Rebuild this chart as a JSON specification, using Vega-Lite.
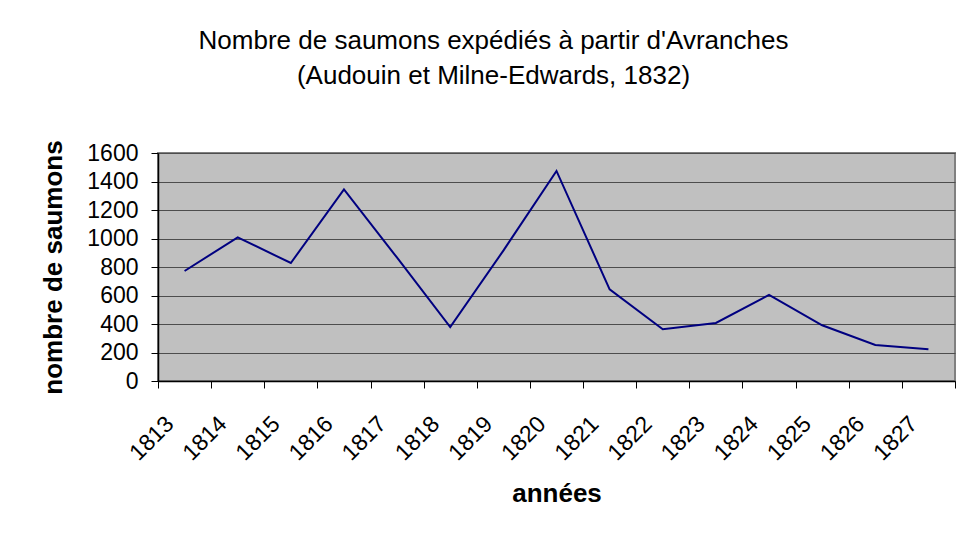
{
  "$schema": "https://vega.github.io/schema/vega-lite/v6.json",
  "width": 797,
  "height": 228,
  "autosize": {"type": "none"},
  "padding": {"left": 158, "top": 153, "right": 10, "bottom": 157},
  "background": "white",
  "title": {
    "text": ["Nombre de saumons expédiés à partir d'Avranches", "(Audouin et Milne-Edwards, 1832)"],
    "anchor": "middle",
    "dx": -63,
    "offset": 51,
    "font": "Liberation Sans",
    "fontSize": 26,
    "fontWeight": "normal",
    "color": "black",
    "lineHeight": 35
  },
  "data": {
    "values": [
      {"annee": 1813, "saumons": 772},
      {"annee": 1814, "saumons": 1008},
      {"annee": 1815, "saumons": 828},
      {"annee": 1816, "saumons": 1345},
      {"annee": 1817, "saumons": 865},
      {"annee": 1818, "saumons": 379},
      {"annee": 1819, "saumons": 915},
      {"annee": 1820, "saumons": 1474},
      {"annee": 1821, "saumons": 643},
      {"annee": 1822, "saumons": 363},
      {"annee": 1823, "saumons": 407},
      {"annee": 1824, "saumons": 604},
      {"annee": 1825, "saumons": 391},
      {"annee": 1826, "saumons": 253},
      {"annee": 1827, "saumons": 222}
    ]
  },
  "layer": [
    {
      "mark": {"type": "line", "opacity": 0},
      "encoding": {
        "x": {
          "field": "annee",
          "type": "quantitative",
          "scale": {"domain": [1812.5, 1827.5], "nice": false, "zero": false},
          "axis": {
            "orient": "bottom",
            "values": [1813, 1814, 1815, 1816, 1817, 1818, 1819, 1820, 1821, 1822, 1823, 1824, 1825, 1826, 1827],
            "format": "d",
            "ticks": false,
            "domain": false,
            "grid": false,
            "labelAngle": -45,
            "labelAlign": "right",
            "labelBaseline": "middle",
            "labelPadding": 39,
            "labelOffset": -15,
            "labelOverlap": false,
            "labelFont": "Liberation Sans",
            "labelFontSize": 23,
            "labelColor": "black",
            "title": "années",
            "titleFont": "Liberation Sans",
            "titleFontSize": 26,
            "titleFontWeight": "bold",
            "titleColor": "black",
            "titlePadding": 16
          }
        },
        "y": {
          "field": "saumons",
          "type": "quantitative",
          "scale": {"domain": [0, 1600], "nice": false},
          "axis": {
            "orient": "left",
            "values": [0, 200, 400, 600, 800, 1000, 1200, 1400, 1600],
            "format": "d",
            "labelOverlap": false,
            "labelFont": "Liberation Sans",
            "labelFontSize": 23,
            "labelColor": "black",
            "labelPadding": 13,
            "tickSize": 7,
            "tickColor": "black",
            "domainColor": "black",
            "domainWidth": 1.5,
            "grid": true,
            "gridColor": "#4d4d4d",
            "gridWidth": 1,
            "gridOpacity": 1,
            "title": "nombre de saumons",
            "titleFont": "Liberation Sans",
            "titleFontSize": 26,
            "titleFontWeight": "bold",
            "titleColor": "black",
            "titlePadding": 20
          }
        }
      }
    },
    {
      "mark": {"type": "line", "color": "#000080", "strokeWidth": 2},
      "encoding": {
        "x": {
          "field": "annee",
          "type": "quantitative",
          "scale": {"domain": [1812.5, 1827.5], "nice": false, "zero": false},
          "axis": {
            "orient": "bottom",
            "values": [1812.5, 1813.5, 1814.5, 1815.5, 1816.5, 1817.5, 1818.5, 1819.5, 1820.5, 1821.5, 1822.5, 1823.5, 1824.5, 1825.5, 1826.5, 1827.5],
            "labels": false,
            "grid": false,
            "ticks": true,
            "tickSize": 7,
            "tickColor": "black",
            "domainColor": "black",
            "domainWidth": 1.5,
            "title": null
          }
        },
        "y": {
          "field": "saumons",
          "type": "quantitative",
          "scale": {"domain": [0, 1600], "nice": false},
          "axis": {
            "orient": "left",
            "values": [0, 200, 400, 600, 800, 1000, 1200, 1400, 1600],
            "format": "d",
            "labelOverlap": false,
            "labelFont": "Liberation Sans",
            "labelFontSize": 23,
            "labelColor": "black",
            "labelPadding": 13,
            "tickSize": 7,
            "tickColor": "black",
            "domainColor": "black",
            "domainWidth": 1.5,
            "grid": true,
            "gridColor": "#4d4d4d",
            "gridWidth": 1,
            "gridOpacity": 1,
            "title": "nombre de saumons",
            "titleFont": "Liberation Sans",
            "titleFontSize": 26,
            "titleFontWeight": "bold",
            "titleColor": "black",
            "titlePadding": 20
          }
        }
      }
    }
  ],
  "resolve": {"axis": {"x": "independent"}},
  "config": {
    "view": {"fill": "#C0C0C0", "stroke": "#808080", "strokeWidth": 2}
  }
}
